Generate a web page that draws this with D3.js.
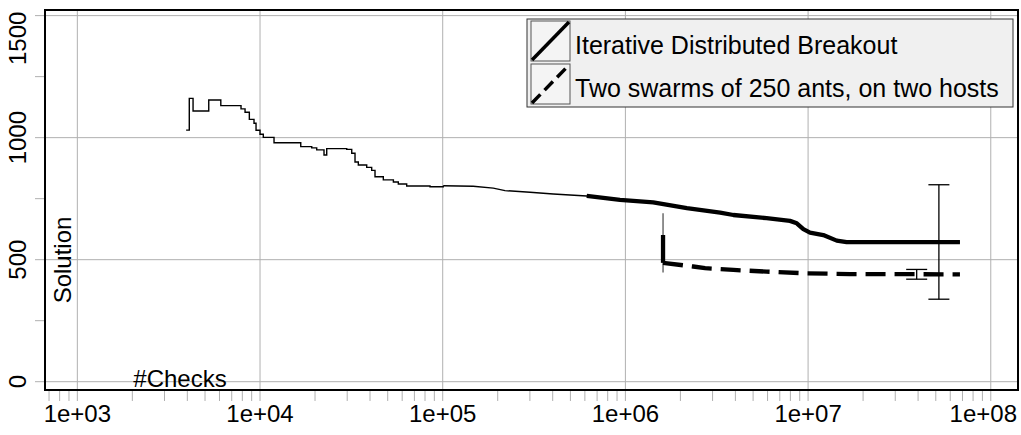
<!doctype html>
<html lang="en">
  <head>
    <meta charset="UTF-8" />
    <title>Solution vs #Checks</title>
    <script src="https://d3js.org/d3.v7.min.js"></script>
    <style>
      body { margin: 0; background: #fff; }
      text { font-family: "Liberation Sans", Arial, sans-serif; fill: #000; }
    </style>
  </head>
  <body>
    <div id="graph"></div>
    <script>
    // Iterative Distributed Breakout (solid, step line)
    var ibChecks = [3940, 4100, 4300, 5240, 6100, 7870, 8280, 8740, 9270, 9510, 10000, 10420, 11930,
        16710, 19190, 20430, 22400, 23180, 29830, 31770, 33110, 34520, 38370, 40850, 42600, 47300,
        53700, 57150, 63500, 85200, 100700, 146900, 189100, 219300, 300500, 402900, 614100, 933800,
        1.42e6, 2.17e6, 3.3e6, 3.9e6, 5.93e6, 7.96e6, 8.67e6, 9.42e6, 1.024e7, 1.211e7, 1.435e7,
        1.626e7, 6.78e7];
    var ibSolution = [1031, 1161, 1109, 1154, 1131, 1118, 1104, 1075, 1059, 1030, 1014, 1001, 979,
        963, 958, 950, 929, 955, 952, 936, 900, 888, 878, 866, 840, 827,
        818, 810, 802, 799, 803, 801, 793, 783, 776, 769, 761, 745,
        735, 711, 693, 683, 670, 659, 649, 625, 611, 601, 578,
        572, 572];

    // Two swarms of 250 ants, on two hosts (dashed)
    var swarmChecks = [1.607e6, 1.607e6, 2.35e6, 2.73e6, 3.9e6, 5.93e6, 9.82e6, 1.695e7, 6.78e7];
    var swarmSolution = [601, 487, 472, 465, 458, 451, 444, 441, 440];

    // error bars
    var errChecks = [1.607e6, 3.93e7, 5.2e7];
    var errLow = [447, 420, 338];
    var errHigh = [690, 460, 807];
    var errCapped = [false, true, true];

    var xTickValues = [1e3, 1e4, 1e5, 1e6, 1e7, 1e8];
    var xTickLabels = ["1e+03", "1e+04", "1e+05", "1e+06", "1e+07", "1e+08"];
    var yTickValues = [0, 500, 1000, 1500];
    var yMinorValues = [250, 750, 1250];
    var legendLabels = ["Iterative Distributed Breakout", "Two swarms of 250 ants, on two hosts"];

    (function() {
    var width = 1021,
        height = 435;
    var pLeft = 45, pRight = 1018, pTop = 10, pBottom = 390;

    var svg = d3.select("#graph").append("svg")
                .attr("width", width)
                .attr("height", height)
                .style("display", "block");

    var x = d3.scaleLog()
        .domain([Math.pow(10, 2.823), Math.pow(10, 8.149)])
        .range([pLeft, pRight]);
    var y = d3.scaleLinear()
        .domain([-34, 1523])
        .range([pBottom, pTop]);

    var grid = "#b0b0b0";

    // minor x ticks: 1..9 x each decade
    var xMinor = [];
    for (var e = 2; e <= 8; e++) {
        for (var m = 1; m <= 9; m++) {
            var v = m * Math.pow(10, e);
            if (x(v) >= pLeft && x(v) <= pRight) xMinor.push(v);
        }
    }

    // gridlines
    svg.append("g").selectAll("line")
        .data(xTickValues).enter().append("line")
        .attr("x1", d => x(d)).attr("x2", d => x(d))
        .attr("y1", pTop).attr("y2", pBottom)
        .attr("stroke", grid).attr("stroke-width", 1);
    svg.append("g").selectAll("line")
        .data(yTickValues).enter().append("line")
        .attr("x1", pLeft - 10).attr("x2", pRight)
        .attr("y1", d => y(d)).attr("y2", d => y(d))
        .attr("stroke", grid).attr("stroke-width", 1);
    svg.append("g").selectAll("line")
        .data(yMinorValues).enter().append("line")
        .attr("x1", pLeft - 10).attr("x2", pLeft)
        .attr("y1", d => y(d)).attr("y2", d => y(d))
        .attr("stroke", grid).attr("stroke-width", 1);
    svg.append("g").selectAll("line")
        .data(xMinor).enter().append("line")
        .attr("x1", d => x(d)).attr("x2", d => x(d))
        .attr("y1", pBottom).attr("y2", pBottom + 11)
        .attr("stroke", grid).attr("stroke-width", 1);

    // tick labels (edge labels pulled inside the window like the original)
    var nx = xTickValues.length, ny = yTickValues.length;
    svg.append("g").selectAll("text")
        .data(xTickValues).enter().append("text")
        .attr("x", (d, i) => i == nx - 1 ? 1017 : x(d)).attr("y", 422)
        .attr("text-anchor", (d, i) => i == nx - 1 ? "end" : "middle")
        .style("font-size", "24px")
        .text((d, i) => xTickLabels[i]);
    svg.append("g").selectAll("text")
        .data(yTickValues).enter().append("text")
        .attr("transform", (d, i) => "translate(26," + (i == ny - 1 ? 65 : y(d)) + ") rotate(-90)")
        .attr("text-anchor", (d, i) => i == ny - 1 ? "start" : "middle")
        .style("font-size", "24px")
        .text(d => d);

    svg.append("defs").append("clipPath").attr("id", "clip")
        .append("rect").attr("x", pLeft).attr("y", pTop)
        .attr("width", pRight - pLeft).attr("height", pBottom - pTop);
    var plot = svg.append("g").attr("clip-path", "url(#clip)");

    var ib = ibChecks.map((c, i) => [c, ibSolution[i]]);
    var stepPart = ib.filter(d => d[0] <= 100700);
    var smoothPart = ib.filter(d => d[0] >= 100700);
    var thickPart = ib.filter(d => d[0] >= 614100);

    var stepLine = d3.line().x(d => x(d[0])).y(d => y(d[1])).curve(d3.curveStepAfter);
    var line = d3.line().x(d => x(d[0])).y(d => y(d[1]));

    plot.append("path").attr("d", stepLine(stepPart))
        .attr("fill", "none").attr("stroke", "#000").attr("stroke-width", 1.4);
    plot.append("path").attr("d", line(smoothPart))
        .attr("fill", "none").attr("stroke", "#000").attr("stroke-width", 1.4);
    plot.append("path").attr("d", line(thickPart))
        .attr("fill", "none").attr("stroke", "#000").attr("stroke-width", 4.3)
        .attr("stroke-linejoin", "round");

    // error bars
    errChecks.forEach(function(c, i) {
        var cx = x(c);
        plot.append("line")
            .attr("x1", cx).attr("x2", cx)
            .attr("y1", y(errLow[i])).attr("y2", y(errHigh[i]))
            .attr("stroke", i == 0 ? "#555" : "#000").attr("stroke-width", 1.3);
        if (errCapped[i]) {
            [errLow[i], errHigh[i]].forEach(function(v) {
                plot.append("line")
                    .attr("x1", cx - 10.5).attr("x2", cx + 10.5)
                    .attr("y1", y(v)).attr("y2", y(v))
                    .attr("stroke", "#000").attr("stroke-width", 1.3);
            });
        }
    });

    var swarm = swarmChecks.map((c, i) => [c, swarmSolution[i]]);
    plot.append("path").attr("d", line(swarm.slice(0, 2)))
        .attr("fill", "none").attr("stroke", "#000").attr("stroke-width", 4.3);
    plot.append("path").attr("d", line(swarm.slice(1)))
        .attr("fill", "none").attr("stroke", "#000").attr("stroke-width", 4.3)
        .attr("stroke-dasharray", "20,9");

    // plot box
    svg.append("rect")
        .attr("x", pLeft).attr("y", pTop)
        .attr("width", pRight - pLeft).attr("height", pBottom - pTop)
        .attr("fill", "none").attr("stroke", "#000").attr("stroke-width", 2);

    // axis titles inside the plot
    svg.append("text")
        .attr("x", 180).attr("y", 387)
        .attr("text-anchor", "middle")
        .style("font-size", "24px")
        .text("#Checks");
    svg.append("text")
        .attr("transform", "translate(71,260) rotate(-90)")
        .attr("text-anchor", "middle")
        .style("font-size", "24px")
        .text("Solution");

    // legend
    var lg = svg.append("g");
    lg.append("rect")
        .attr("x", 527).attr("y", 19).attr("width", 486).attr("height", 88)
        .attr("fill", "#f0f0f0").attr("stroke", "#333").attr("stroke-width", 1);
    legendLabels.forEach(function(label, i) {
        var y0 = 21 + i * 43;
        lg.append("rect")
            .attr("x", 531).attr("y", y0).attr("width", 39).attr("height", 40)
            .attr("fill", "#f4f4f4").attr("stroke", "#555").attr("stroke-width", 1);
        lg.append("line")
            .attr("x1", 532).attr("y1", y0 + 39).attr("x2", 569).attr("y2", y0 + 1)
            .attr("stroke", "#000").attr("stroke-width", 3.5)
            .attr("stroke-dasharray", i == 1 ? "12,6" : null);
        lg.append("text")
            .attr("x", 575).attr("y", y0 + 33)
            .style("font-size", "25px")
            .text(label);
    });
    })();
    </script>
  </body>
</html>
